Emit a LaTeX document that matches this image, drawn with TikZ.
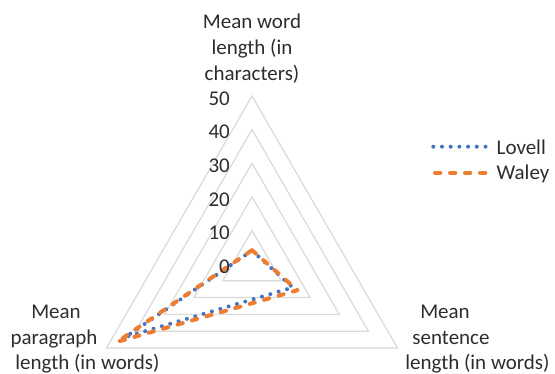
\documentclass[tikz,border=0pt]{standalone}
\usepackage{fontspec}
\setmainfont{Carlito}
\definecolor{gridgray}{RGB}{217,217,217}
\definecolor{txtgray}{RGB}{45,45,45}
\definecolor{lovellblue}{RGB}{68,114,196}
\definecolor{waleyorange}{RGB}{237,125,49}
\tikzset{
  gridtri/.style={draw=gridgray, line width=1.2pt, line join=miter},
  lbl/.style={font=\fontsize{21}{25.6}\selectfont, text=txtgray, inner sep=0pt},
  ticklbl/.style={lbl, anchor=east},
  lovellline/.style={draw=lovellblue, line width=4pt, line cap=round, line join=round, dash pattern=on 0pt off 8.7pt},
  waleyline/.style={draw=waleyorange, line width=4pt, line cap=round, line join=round, dash pattern=on 5.3pt off 9.7pt},
}
\begin{document}
\begin{tikzpicture}[x=1pt,y=1pt]
\useasboundingbox (0,0) rectangle (555,374);
% centre of radar chart
\coordinate (c) at (252,110);
\begin{scope}[shift={(c)}]
  % grid triangles
  \foreach \k in {1,...,5}{
    \draw[gridtri] (90:{\k*33.6}) -- (-30:{\k*33.6}) -- (210:{\k*33.6}) -- cycle;
  }
  % data points
  \coordinate (lw) at (90:13.4);
  \coordinate (ls) at (-30:47);
  \coordinate (lp) at (210:146);
  \coordinate (ww) at (90:13.8);
  \coordinate (ws) at (-30:52.5);
  \coordinate (wp) at (210:155.7);
  \draw[lovellline] (lw) -- (ls) -- (lp) -- cycle;
  \draw[waleyline] (ww) -- (ws) -- (wp) -- cycle;
\end{scope}
% tick labels
\foreach \v in {0,10,20,30,40,50}{
  \node[ticklbl] (t\v) at (230,{110+\v*3.36-2.5}) {\v};
}
% category labels
\node[lbl, anchor=base] (a1) at (252,{374-28.5}) {Mean word};
\node[lbl, anchor=base] (a2) at (252,{374-54.5}) {length (in};
\node[lbl, anchor=base] (a3) at (252,{374-80.5}) {characters)};
\node[lbl, anchor=base] (b1) at (56,{374-318.5}) {Mean};
\node[lbl, anchor=base] (b2) at (54,{374-344.5}) {paragraph};
\node[lbl, anchor=base] (b3) at (87.5,{374-369.5}) {length (in words)};
\node[lbl, anchor=base] (s1) at (445,{374-318.5}) {Mean};
\node[lbl, anchor=base] (s2) at (451,{374-344.5}) {sentence};
\node[lbl, anchor=base] (s3) at (477.5,{374-369.5}) {length (in words)};
% legend
\coordinate (l1a) at (433.3,{374-146.7});
\coordinate (l1b) at (489.3,{374-146.7});
\coordinate (l2a) at (435,{374-172.7});
\coordinate (l2b) at (492,{374-172.7});
\draw[lovellline] (l1a) -- (l1b);
\draw[waleyline] (l2a) -- (l2b);
\node[lbl, anchor=base west] (leg1) at (496.5,{374-155}) {Lovell};
\node[lbl, anchor=base west] (leg2) at (496.5,{374-180}) {Waley};
\end{tikzpicture}
\end{document}
